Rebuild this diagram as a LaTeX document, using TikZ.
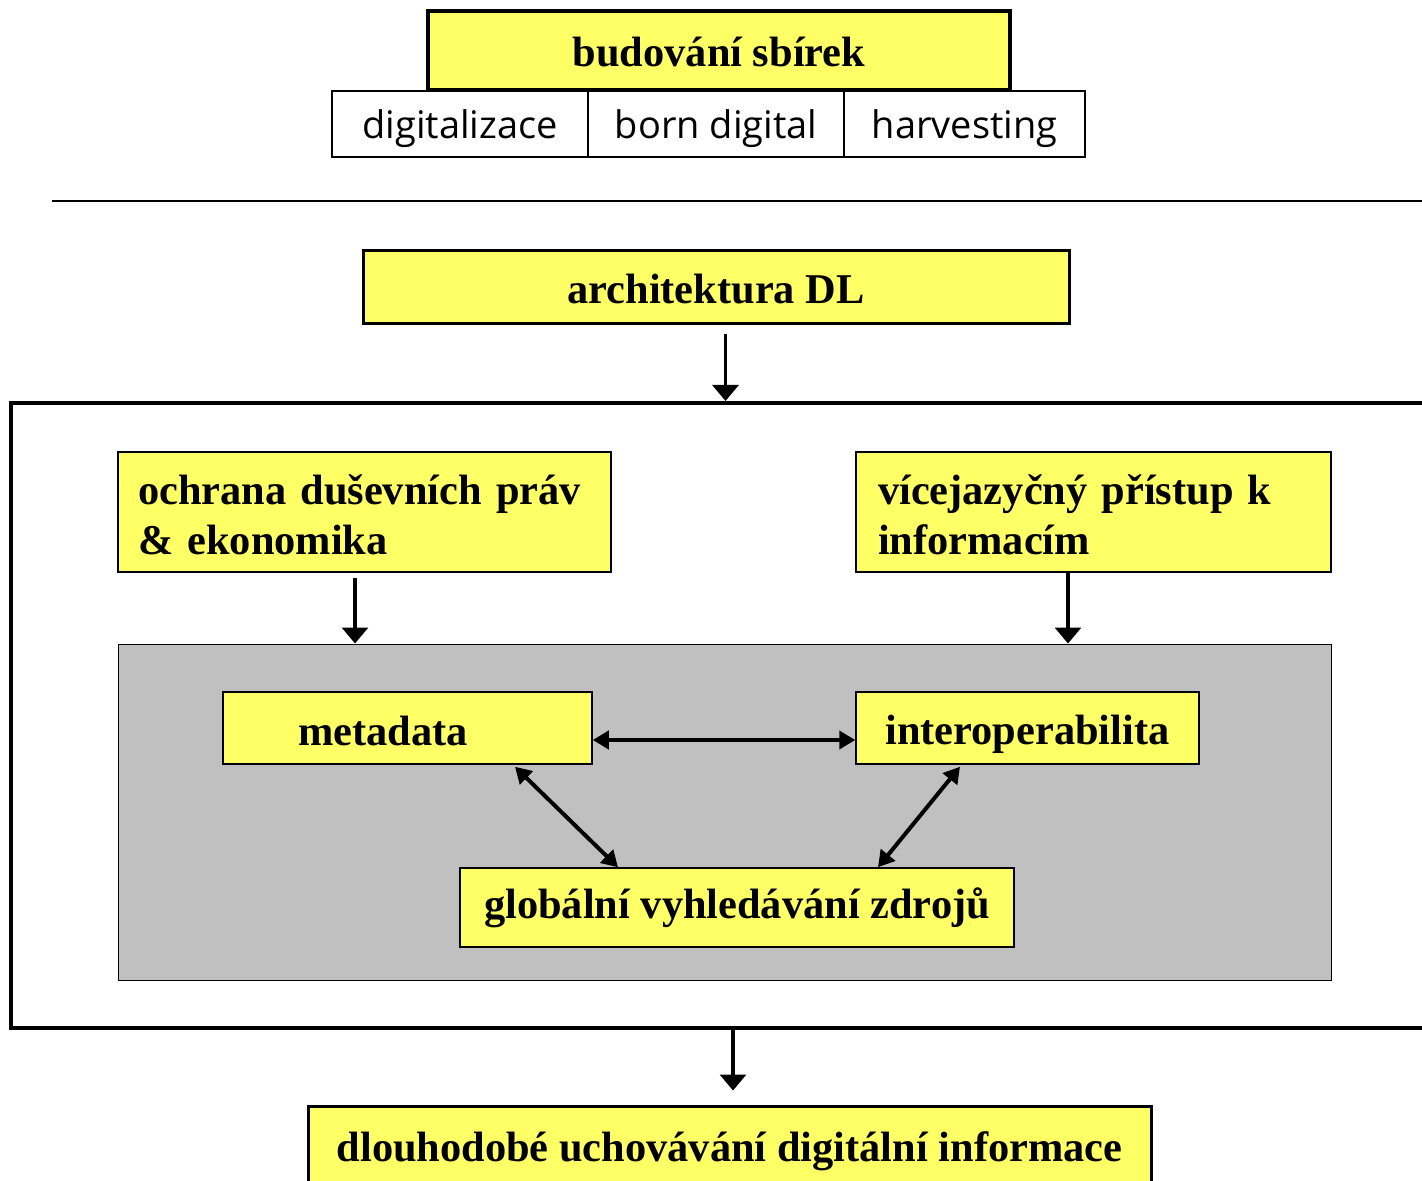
\documentclass[tikz,border=0pt]{standalone}
\usepackage{fontspec}
\setmainfont{Liberation Serif}
\newfontfamily\comicfont{Open Sans}
\usetikzlibrary{arrows.meta,calc}
\definecolor{yel}{RGB}{255,255,102}
\definecolor{grayfill}{RGB}{192,192,192}
\newcommand{\dropby}[2]{\raisebox{-#1}[\height][\depth]{#2}}
\tikzset{
  ybox/.style={draw, fill=yel, inner sep=0pt, line width=0.75pt,
    font=\bfseries\fontsize{21.2pt}{25pt}\selectfont},
  wbox/.style={draw, fill=white, inner sep=0pt, line width=0.75pt,
    font=\comicfont\fontsize{19pt}{22pt}\selectfont},
  bigarr/.style={line width=1.6pt, -{Triangle[length=8pt,width=13pt]}},
  dblarr/.style={line width=2pt, {Triangle[length=8pt,width=9pt]}-{Triangle[length=8pt,width=9pt]}}
}
\begin{document}
\begin{tikzpicture}[x=0.5pt,y=-0.5pt]
\path[use as bounding box, clip] (0,0) rectangle (1422,1181);
\fill[white] (0,0) rectangle (1422,1181);

% top
\node[ybox, line width=2pt, minimum width=291pt, minimum height=39.5pt] (bud) at (719,50.5) {\dropby{1pt}{budování sbírek}};
\node[wbox, minimum width=128pt, minimum height=33pt] (dig) at (460,124) {\dropby{2.5pt}{digitalizace}};
\node[wbox, minimum width=128pt, minimum height=33pt] (born) at (716,124) {\dropby{2.5pt}{born digital}};
\node[wbox, minimum width=120.5pt, minimum height=33pt] (harv) at (964.5,124) {\dropby{2.5pt}{harvesting}};

% separator
\coordinate (l1) at (52,201);
\coordinate (l2) at (1422,201);
\draw[line width=1.2pt] (l1) -- (l2);

% architecture
\node[ybox, line width=1.5pt, minimum width=353pt, minimum height=36.5pt] (arch) at (716,287.5) {\dropby{1pt}{architektura DL}};

% big frame
\node[draw, line width=2pt, minimum width=714.5pt, minimum height=312.5pt, inner sep=0pt] (frame) at (725.5,715.5) {};
\draw[bigarr] ([yshift=-4.5pt]arch.south -| frame.north) -- (frame.north);

% upper yellow boxes
\node[ybox, minimum width=246.5pt, minimum height=60pt, inner xsep=10pt, text width=226.5pt, align=left] (ochr) at (364.5,512)
  {\dropby{1.5pt}{ochrana duševních práv}\\\dropby{1.5pt}{\& ekonomika}};
\node[ybox, minimum width=237.5pt, minimum height=60pt, inner xsep=11pt, text width=215.5pt, align=left] (vice) at (1093.5,512)
  {\dropby{1.5pt}{vícejazyčný přístup k}\\\dropby{1.5pt}{informacím}};

% gray area
\node[draw, fill=grayfill, line width=0.5pt, minimum width=606.5pt, minimum height=168pt, inner sep=0pt] (gray) at (724.5,812) {};

\draw[bigarr] ([xshift=-4.75pt,yshift=-2.5pt]ochr.south) -- ([xshift=-4.75pt]ochr.south |- gray.north);
\draw[bigarr] ([xshift=-12.75pt]vice.south) -- ([xshift=-12.75pt]vice.south |- gray.north);

% inner boxes
\node[ybox, minimum width=184.5pt, minimum height=36pt, inner xsep=37.5pt, text width=109.5pt, align=left] (meta) at (407.5,728) {\dropby{1.5pt}{metadata}};
\node[ybox, minimum width=171.5pt, minimum height=36pt] (inter) at (1027.5,728) {\dropby{3pt}{interoperabilita}};
\node[ybox, minimum width=277pt, minimum height=39.5pt] (glob) at (737,907.5) {globální vyhledávání zdrojů};

\draw[dblarr] ([yshift=-6pt]meta.east) -- ([yshift=-6pt]inter.west);
\draw[dblarr] ([xshift=53.75pt,yshift=-1pt]meta.south) -- ([xshift=-59.5pt]glob.north);
\draw[dblarr] ([xshift=-33.75pt,yshift=-1pt]inter.south) -- ([xshift=70.5pt]glob.north);

% bottom
\node[ybox, line width=1.5pt, minimum width=421.5pt, minimum height=47pt] (dlou) at (729.5,1153) {\raisebox{1pt}[\height][\depth]{dlouhodobé uchovávání digitální informace}};
\draw[bigarr] ([xshift=3.75pt]frame.south) -- ([xshift=3.75pt,yshift=7pt]frame.south |- dlou.north);
\end{tikzpicture}
\end{document}
